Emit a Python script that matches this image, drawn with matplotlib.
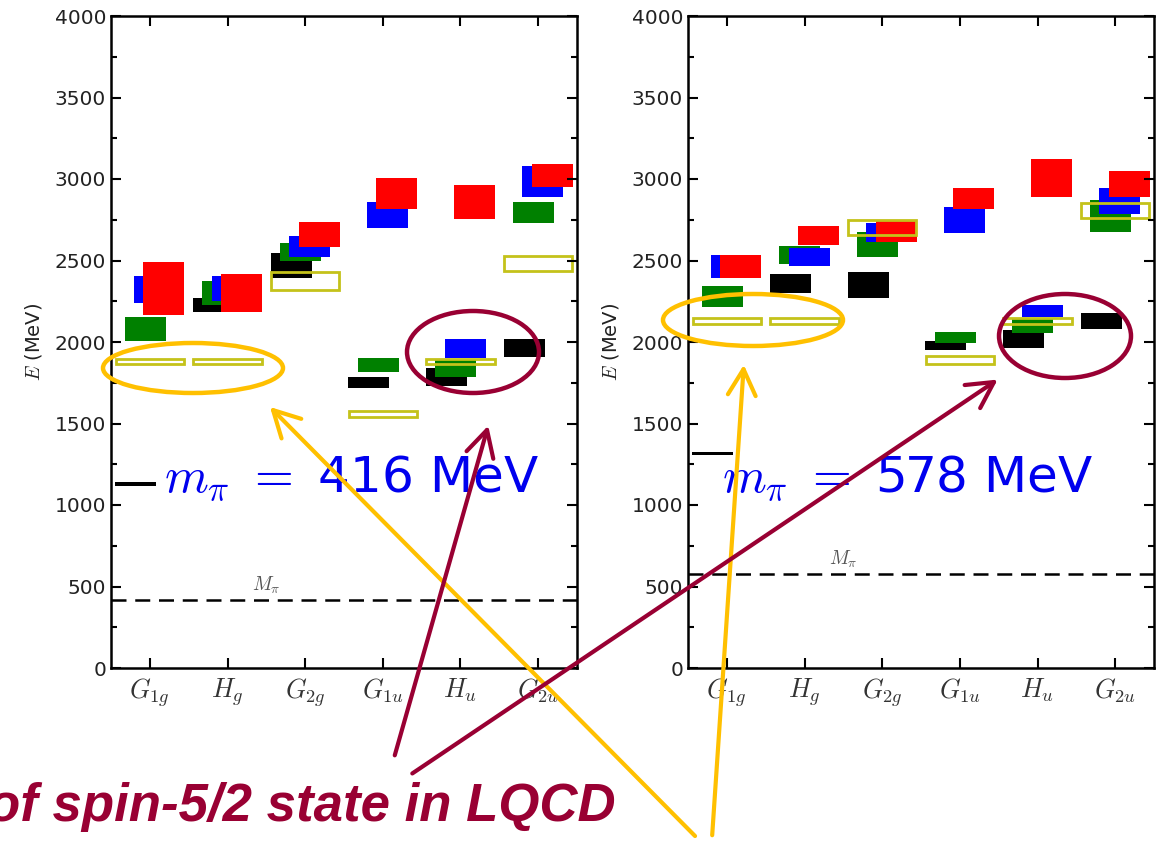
import numpy as np
import matplotlib
matplotlib.use("Agg")
import matplotlib.pyplot as plt
from matplotlib.patches import Ellipse, FancyArrowPatch

plt.rcParams['mathtext.fontset'] = 'cm'
plt.rcParams['font.family'] = ['DejaVu Sans']

# irreps on the x axis
irreps = [r"$G_{1g}$", r"$H_g$", r"$G_{2g}$", r"$G_{1u}$", r"$H_u$", r"$G_{2u}$"]

# m_pi = 416 MeV panel: lower / upper edge of each energy band (MeV)
black_lo_416 = [1115, 2182, 2391, 1715, 1729, 1905]
black_hi_416 = [1140, 2269, 2549, 1784, 1842, 2018]
green_lo_416 = [2008, 2227, 2494, 1818, 1788, 2729]
green_hi_416 = [2152, 2373, 2609, 1899, 1893, 2856]
blue_lo_416 = [2241, 2253, 2524, 2698, 1903, 2889]
blue_hi_416 = [2403, 2403, 2652, 2858, 2020, 3077]
red_lo_416 = [2168, 2182, 2581, 2816, 2757, 2949]
red_hi_416 = [2490, 2417, 2739, 3006, 2962, 3093]
open_lo_416 = [1867, 1867, 2322, 1541, 1862, 2437]
open_hi_416 = [1897, 1897, 2427, 1575, 1897, 2528]

# m_pi = 578 MeV panel
black_lo_578 = [1305, 2302, 2273, 1950, 1964, 2081]
black_hi_578 = [1325, 2415, 2429, 2004, 2075, 2176]
green_lo_578 = [2215, 2480, 2524, 1994, 2055, 2672]
green_hi_578 = [2342, 2591, 2672, 2061, 2146, 2872]
blue_lo_578 = [2391, 2464, 2611, 2670, 2152, 2787]
blue_hi_578 = [2534, 2577, 2727, 2828, 2225, 2945]
red_lo_578 = [2391, 2595, 2611, 2816, 2891, 2891]
red_hi_578 = [2534, 2711, 2743, 2945, 3123, 3047]
open_lo_578 = [2113, 2113, 2658, 1862, 2113, 2759]
open_hi_578 = [2148, 2148, 2749, 1913, 2148, 2854]

m_pi = [416, 578]

W, H = 1157, 841
fig = plt.figure(figsize=(W / 100, H / 100), dpi=100)


def fx(x):
    return x / W


def fy(y):
    return 1 - y / H


def panel(ax, bands, opens, mpi, text_x):
    x = np.arange(1, 7)
    offsets = [-0.18, -0.06, 0.06, 0.18]
    colors = ['black', 'green', 'blue', 'red']
    for (lo, hi), off, c in zip(bands, offsets, colors):
        lo, hi = np.array(lo), np.array(hi)
        ax.bar(x + off, hi - lo, bottom=lo, width=0.53, color=c, linewidth=0)
    lo, hi = np.array(opens[0]), np.array(opens[1])
    ax.bar(x, hi - lo, bottom=lo, width=0.88, fill=False,
           edgecolor='#c4c21a', linewidth=2)
    ax.axhline(mpi, color='black', ls=(0, (6, 3.5)), lw=1.8)
    ax.text(2.5, mpi + 55, r"$M_\pi$", color='#555555', fontsize=14, ha='center')
    ax.set_xlim(0.5, 6.5)
    ax.set_ylim(0, 4000)
    ax.set_xticks(x)
    ax.set_xticklabels(irreps, fontsize=19, color='#333333')
    ax.set_yticks(np.arange(0, 4001, 500))
    ax.set_yticks(np.arange(0, 4001, 250), minor=True)
    ax.tick_params(axis='y', labelsize=14.5, labelcolor='#222222')
    ax.tick_params(which='both', direction='in', top=True, right=True, width=1.5)
    ax.tick_params(which='major', length=7)
    ax.tick_params(which='minor', length=4)
    ax.tick_params(axis='x', which='minor', bottom=False, top=False)
    ax.tick_params(axis='x', pad=6)
    for s in ax.spines.values():
        s.set_linewidth(1.8)
    ax.set_ylabel(r"$E$ (MeV)", fontsize=14, color='#222222', labelpad=8)
    ax.text(text_x, 0.291, r"$m_\pi\ =$ " + f"{mpi} MeV", transform=ax.transAxes,
            ha='center', va='center', color='#0000ee', fontsize=36)


ax1 = fig.add_axes([fx(111), fy(668), 466 / W, 652 / H])
ax2 = fig.add_axes([fx(688), fy(668), 466 / W, 652 / H])

panel(ax1, [(black_lo_416, black_hi_416), (green_lo_416, green_hi_416),
            (blue_lo_416, blue_hi_416), (red_lo_416, red_hi_416)],
      (open_lo_416, open_hi_416), m_pi[0], 0.517)
panel(ax2, [(black_lo_578, black_hi_578), (green_lo_578, green_hi_578),
            (blue_lo_578, blue_hi_578), (red_lo_578, red_hi_578)],
      (open_lo_578, open_hi_578), m_pi[1], 0.472)

# slide overlay: circles, arrows and caption
gold = '#ffc000'
wine = '#990033'
for cx, cy, w, h, c in [(193, 368, 180, 50, gold), (473, 352, 132, 82, wine),
                        (753, 320, 180, 52, gold), (1065, 336, 132, 84, wine)]:
    fig.add_artist(Ellipse((fx(cx), fy(cy)), w / W, h / H, fill=False,
                           edgecolor=c, linewidth=3.2, transform=fig.transFigure))

for (x0, y0), (x1, y1), c in [((697, 838), (268, 405), gold),
                              ((712, 838), (744, 362), gold),
                              ((394, 758), (489, 423), wine),
                              ((410, 775), (1000, 378), wine)]:
    fig.add_artist(FancyArrowPatch((fx(x0), fy(y0)), (fx(x1), fy(y1)),
                                   transform=fig.transFigure,
                                   arrowstyle='->,head_length=0.75,head_width=0.4',
                                   mutation_scale=25, color=c, linewidth=3))

fig.text(fx(-12), fy(821), "of spin-5/2 state in LQCD", color=wine,
         fontsize=38, fontweight='bold', fontstyle='italic',
         family=['Liberation Sans', 'DejaVu Sans'], va='baseline', ha='left')

fig.savefig("out.png", dpi=100)
